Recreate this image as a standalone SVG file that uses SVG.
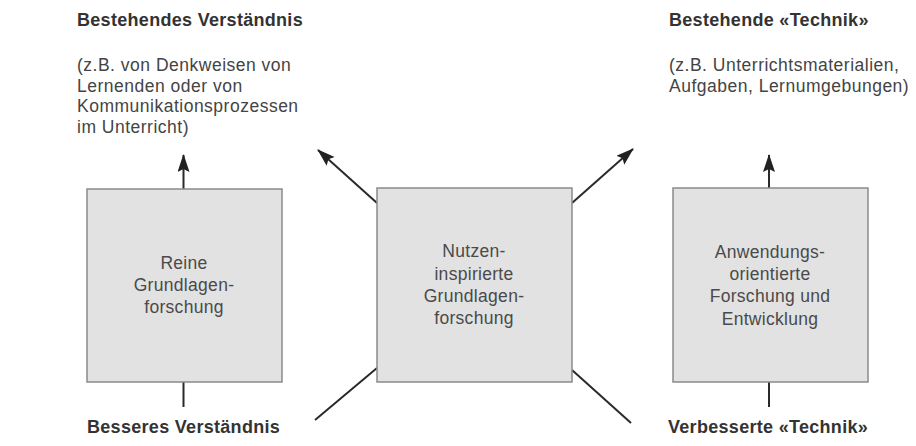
<svg xmlns="http://www.w3.org/2000/svg" width="916" height="446" viewBox="0 0 916 446">
<style>
.box{fill:#e2e2e2;stroke:#8a8a8a;stroke-width:1.5}
.bt{font-family:"Liberation Sans",Arial,sans-serif;font-size:17.5px;fill:#4a4a4a;text-anchor:middle;letter-spacing:0.3px}
.hd{font-family:"Liberation Sans",Arial,sans-serif;font-size:18px;font-weight:bold;fill:#333;letter-spacing:0.3px}
.tx{font-family:"Liberation Sans",Arial,sans-serif;font-size:17.5px;fill:#444;letter-spacing:0.5px}
.ln{stroke:#2a2a2a;stroke-width:2;fill:none}
</style>
<defs>
<marker id="ah" markerUnits="userSpaceOnUse" markerWidth="20" markerHeight="14" refX="17" refY="6" orient="auto">
<path d="M0,0 L18,6 L0,12 L3,6 z" fill="#222"/>
</marker>
</defs>
<rect width="916" height="446" fill="#fff"/>
<g id="labels">
<text class="hd" x="77" y="26">Bestehendes Verständnis</text>
<text class="tx" x="77" y="71">(z.B. von Denkweisen von</text>
<text class="tx" x="77" y="92">Lernenden oder von</text>
<text class="tx" x="77" y="112">Kommunikationsprozessen</text>
<text class="tx" x="77" y="133">im Unterricht)</text>
<text class="hd" x="669" y="26">Bestehende «Technik»</text>
<text class="tx" x="669" y="71">(z.B. Unterrichtsmaterialien,</text>
<text class="tx" x="669" y="92">Aufgaben, Lernumgebungen)</text>
<text class="hd" x="87" y="433">Besseres Verständnis</text>
<text class="hd" x="668" y="433">Verbesserte «Technik»</text>
</g>
<g id="connectors">
<line class="ln" x1="183.5" y1="189" x2="183.5" y2="155" marker-end="url(#ah)"/>
<line class="ln" x1="183.5" y1="382" x2="183.5" y2="407"/>
<line class="ln" x1="377" y1="203" x2="318" y2="150" marker-end="url(#ah)"/>
<line class="ln" x1="377" y1="368" x2="315" y2="420"/>
<line class="ln" x1="572" y1="203" x2="633" y2="149" marker-end="url(#ah)"/>
<line class="ln" x1="572" y1="370" x2="631" y2="423"/>
<line class="ln" x1="769" y1="188" x2="769" y2="155" marker-end="url(#ah)"/>
<line class="ln" x1="769" y1="382" x2="769" y2="407"/>
</g>
<g id="node-reine">
<rect class="box" x="87" y="189" width="195" height="193"/>
<text class="bt" x="184" y="269">Reine</text>
<text class="bt" x="184" y="291">Grundlagen-</text>
<text class="bt" x="184" y="313">forschung</text>
</g>
<g id="node-nutzen">
<rect class="box" x="377" y="188" width="195" height="194"/>
<text class="bt" x="474" y="257">Nutzen-</text>
<text class="bt" x="474" y="280">inspirierte</text>
<text class="bt" x="474" y="302">Grundlagen-</text>
<text class="bt" x="474" y="324">forschung</text>
</g>
<g id="node-anwendung">
<rect class="box" x="673" y="188" width="195" height="194"/>
<text class="bt" x="770" y="258">Anwendungs-</text>
<text class="bt" x="770" y="280">orientierte</text>
<text class="bt" x="770" y="302">Forschung und</text>
<text class="bt" x="770" y="325">Entwicklung</text>
</g>
</svg>
